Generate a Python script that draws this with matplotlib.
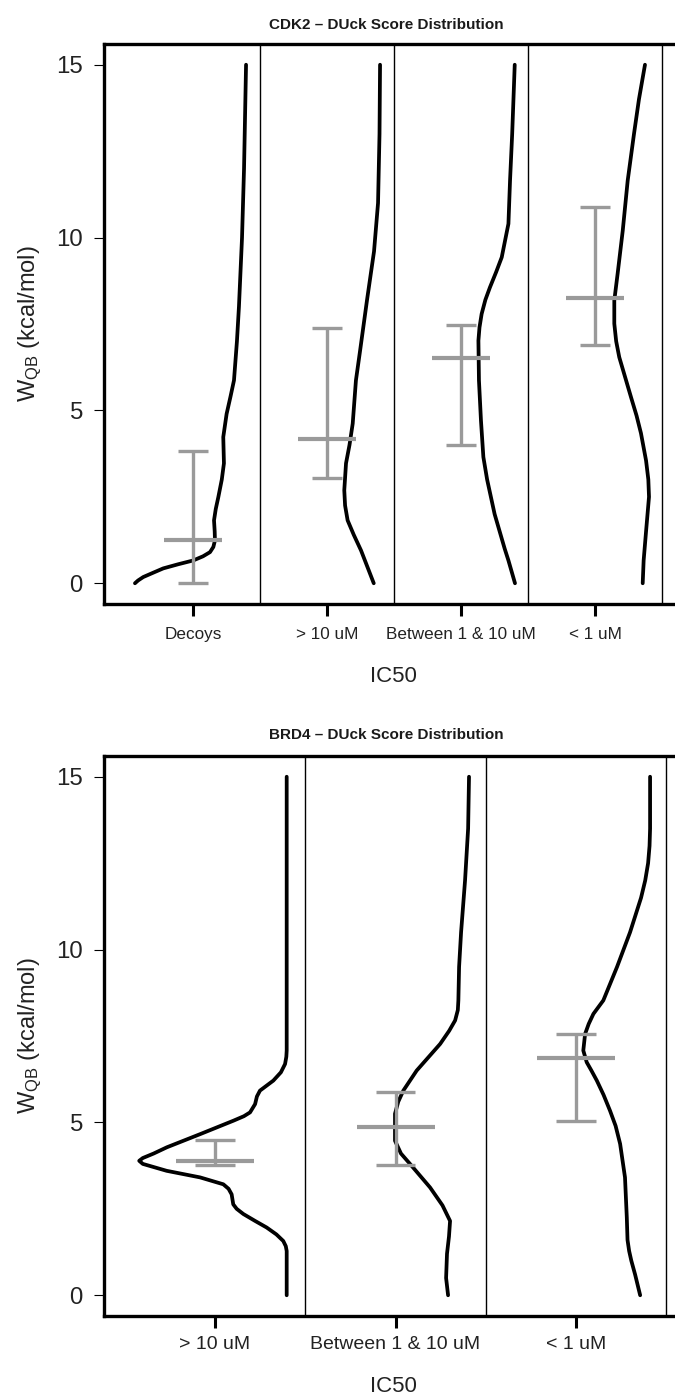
import numpy as np
import matplotlib.pyplot as plt

plt.rcParams['font.family'] = ['Liberation Sans', 'DejaVu Sans']
plt.rcParams['mathtext.default'] = 'regular'

# ---- CDK2 panel ----
cdk2_categories = ['Decoys', '> 10 uM', 'Between 1 & 10 uM', '< 1 uM']
cdk2_low = [0.0, 3.05, 3.99, 6.90]
cdk2_mid = [1.25, 4.17, 6.51, 8.26]
cdk2_high = [3.82, 7.38, 7.46, 10.88]

# density outlines: score values and horizontal offset from the category position
cdk2_decoys_y = [0, 0.08, 0.18, 0.3, 0.43, 0.55, 0.66, 0.78, 0.9, 1.05, 1.24, 1.5, 1.82, 2.15, 2.49,
                 3.0, 3.47, 4.23, 4.9, 5.4, 5.87, 7, 8, 10, 12, 15]
cdk2_decoys_dx = [-0.433, -0.41, -0.371, -0.30, -0.222, -0.11, 0.002, 0.075, 0.127, 0.152, 0.164,
                  0.162, 0.157, 0.17, 0.189, 0.215, 0.231, 0.226, 0.251, 0.28, 0.306, 0.328, 0.343,
                  0.366, 0.381, 0.396]
cdk2_gt10_y = [0, 0.95, 1.4, 1.82, 2.25, 2.69, 3.47, 4.0, 4.62, 5.87, 6.7, 8.2, 9.6, 11, 13, 15]
cdk2_gt10_dx = [0.349, 0.254, 0.200, 0.154, 0.135, 0.129, 0.142, 0.168, 0.192, 0.216, 0.246, 0.299,
                0.351, 0.381, 0.392, 0.396]
cdk2_mid_y = [0, 0.66, 1, 2, 3.0, 3.65, 4.71, 5.87, 7.02, 7.4, 7.79, 8.2, 8.56, 9.0, 9.43, 10.4,
              11.65, 13, 15]
cdk2_mid_dx = [0.403, 0.354, 0.326, 0.251, 0.195, 0.167, 0.149, 0.134, 0.130, 0.138, 0.154, 0.182,
               0.216, 0.262, 0.304, 0.354, 0.366, 0.382, 0.401]
cdk2_lt1_y = [0, 0.66, 1.5, 2.5, 3.0, 3.55, 4.34, 4.85, 5.38, 6.0, 6.54, 7.0, 7.51, 8.18, 8.96,
              10.2, 11.65, 13, 14, 15]
cdk2_lt1_dx = [0.356, 0.363, 0.381, 0.403, 0.398, 0.381, 0.343, 0.31, 0.269, 0.222, 0.181, 0.158,
               0.144, 0.144, 0.169, 0.207, 0.244, 0.291, 0.328, 0.373]

# ---- BRD4 panel ----
brd4_categories = ['> 10 uM', 'Between 1 & 10 uM', '< 1 uM']
brd4_low = [3.77, 3.77, 5.05]
brd4_mid = [3.89, 4.88, 6.87]
brd4_high = [4.48, 5.87, 7.56]

brd4_gt10_y = [0, 1.28, 1.42, 1.57, 1.76, 1.96, 2.15, 2.35, 2.5, 2.63, 2.92, 3.08, 3.21, 3.41, 3.6,
               3.8, 3.89, 3.97, 4.1, 4.28, 4.66, 5.05, 5.18, 5.29, 5.53, 5.75, 5.92, 6.21, 6.45,
               6.69, 6.9, 7.08, 15]
brd4_gt10_dx = [0.397, 0.397, 0.392, 0.378, 0.34, 0.286, 0.222, 0.157, 0.12, 0.101, 0.092, 0.075,
                0.046, -0.083, -0.268, -0.40, -0.42, -0.40, -0.34, -0.267, -0.083, 0.102, 0.16,
                0.194, 0.222, 0.232, 0.249, 0.323, 0.365, 0.388, 0.395, 0.397, 0.397]
brd4_mid_y = [0, 0.5, 1.2, 1.7, 2.15, 2.6, 3.12, 3.8, 4.1, 4.47, 5.25, 5.6, 5.92, 6.5, 7.27, 7.65,
              7.95, 8.25, 8.53, 9.5, 10.5, 12, 13.5, 15]
brd4_mid_dx = [0.291, 0.280, 0.285, 0.296, 0.302, 0.26, 0.191, 0.080, 0.03, -0.003, -0.003, 0.015,
               0.043, 0.117, 0.247, 0.297, 0.33, 0.345, 0.348, 0.352, 0.363, 0.385, 0.402, 0.407]
brd4_lt1_y = [0, 0.6, 1.0, 1.28, 1.6, 2.25, 3.41, 4.38, 4.9, 5.34, 5.8, 6.21, 6.5, 6.74, 7.08, 7.56,
              7.85, 8.14, 8.53, 9.5, 10.5, 11.5, 12.0, 12.5, 13.0, 13.5, 15]
brd4_lt1_dx = [0.355, 0.327, 0.306, 0.294, 0.285, 0.281, 0.271, 0.244, 0.219, 0.188, 0.152, 0.115,
               0.085, 0.059, 0.040, 0.050, 0.07, 0.096, 0.151, 0.227, 0.299, 0.360, 0.383, 0.399,
               0.407, 0.410, 0.410]

y_ticks = [0, 5, 10, 15]
grey = '#9a9a9a'

fig = plt.figure(figsize=(6.75, 13.97), dpi=100)
W, H = 675, 1397


def panel(top_px, xmin, xmax, cats, curves, low, mid, high, tick_fs, tick_pad):
    ax = fig.add_axes([104 / W, 1 - (top_px + 560) / H, 571 / W, 560 / H])
    pos = np.arange(len(cats))
    for i, (yy, dx) in enumerate(curves):
        ax.plot(np.array(dx) + i, yy, color='black', lw=2.7,
                solid_capstyle='round', solid_joinstyle='round', zorder=2)
    ax.vlines(pos, low, high, color=grey, lw=2.4, zorder=3)
    ax.hlines(low, pos - 0.11, pos + 0.11, color=grey, lw=2.4, zorder=3)
    ax.hlines(high, pos - 0.11, pos + 0.11, color=grey, lw=2.4, zorder=3)
    ax.hlines(mid, pos - 0.216, pos + 0.216, color=grey, lw=3.0, zorder=3)
    for d in pos + 0.5:
        ax.axvline(d, color='black', lw=1.0, zorder=1)
    ax.set_xlim(xmin, xmax)
    ax.set_ylim(-0.6, 15.6)
    ax.set_xticks(pos)
    ax.set_xticklabels(cats, fontsize=tick_fs)
    ax.set_yticks(y_ticks)
    ax.set_yticklabels([str(t) for t in y_ticks], fontsize=17.3, color='#222222')
    ax.tick_params(axis='x', length=8.6, width=2.2, pad=tick_pad, colors='black')
    ax.tick_params(axis='x', labelcolor='#222222')
    ax.tick_params(axis='y', length=7.2, width=0.8, pad=8)
    for s in ['left', 'top', 'bottom']:
        ax.spines[s].set_linewidth(2.4)
    ax.spines['right'].set_visible(False)
    return ax


panel(44, -0.664, 3.597, cdk2_categories,
      [(cdk2_decoys_y, cdk2_decoys_dx), (cdk2_gt10_y, cdk2_gt10_dx),
       (cdk2_mid_y, cdk2_mid_dx), (cdk2_lt1_y, cdk2_lt1_dx)],
      cdk2_low, cdk2_mid, cdk2_high, 12.3, 8)
panel(756, -0.615, 2.548, brd4_categories,
      [(brd4_gt10_y, brd4_gt10_dx), (brd4_mid_y, brd4_mid_dx), (brd4_lt1_y, brd4_lt1_dx)],
      brd4_low, brd4_mid, brd4_high, 14, 6)

for title, ty, lab_y, ax_mid in [('CDK2 \u2013 DUck Score Distribution', 25, 677, 324),
                                 ('BRD4 \u2013 DUck Score Distribution', 735, 1387, 1036)]:
    fig.text(386 / W, 1 - ty / H, title, ha='center', va='center', fontsize=11,
             fontweight='bold', color='#1a1a1a')
    fig.text(393 / W, 1 - lab_y / H, 'IC50', ha='center', va='center', fontsize=16, color='#222222')
    fig.text(30 / W, 1 - ax_mid / H, r'W$_{QB}$ (kcal/mol)', ha='center', va='center',
             rotation=90, fontsize=17, color='#222222')

fig.savefig('out.png', dpi=100)
